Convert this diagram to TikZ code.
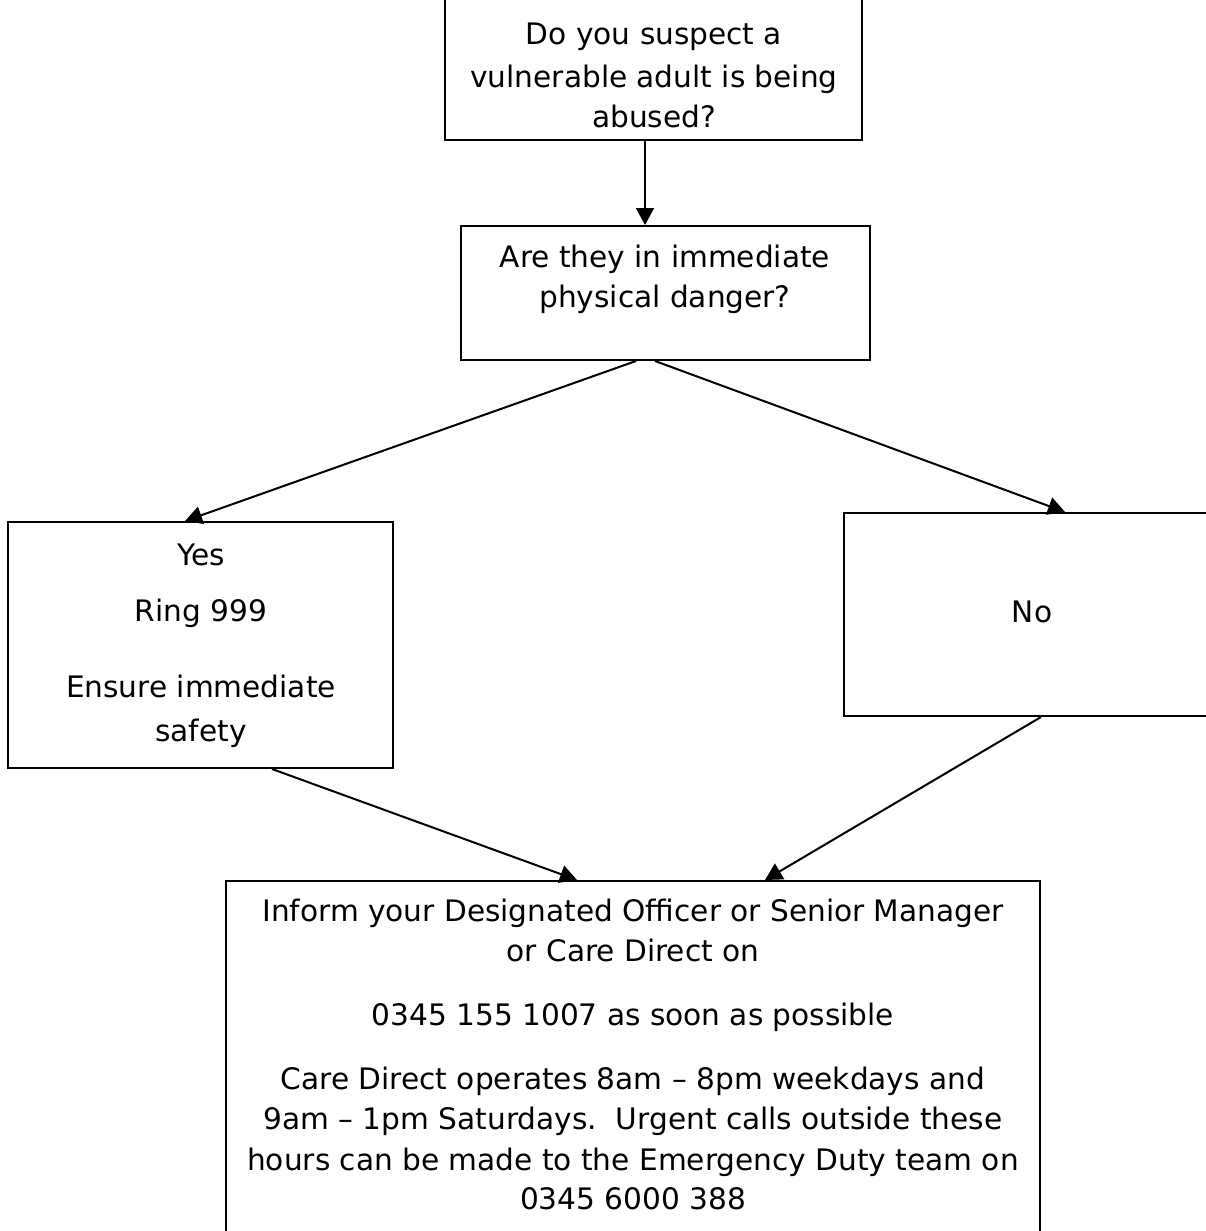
\documentclass[tikz,border=0pt]{standalone}
\usepackage{fontspec}
\setmainfont{DejaVu Sans}
\usetikzlibrary{calc,arrows.meta}
\begin{document}
\begin{tikzpicture}[x=1pt,y=-1pt,
  box/.style={draw,line width=2pt,rectangle,inner sep=0pt},
  txt/.style={anchor=base,inner sep=0pt,font=\fontsize{29.6}{40}\selectfont},
  arr/.style={line width=2pt,-{Triangle[length=17pt,width=18pt]}}]
\useasboundingbox (0,0) rectangle (1206,1231);
\clip (0,0) rectangle (1206,1231);
\node[box,minimum width=417pt,minimum height=142pt] (q1) at (653.5,69) {};
\node[box,minimum width=409pt,minimum height=134pt] (q2) at (665.5,293) {};
\node[box,minimum width=385pt,minimum height=246pt] (yes) at (200.5,645) {};
\node[box,minimum width=380pt,minimum height=203pt] (no) at (1034,614.5) {};
\node[box,minimum width=814pt,minimum height=360pt] (inf) at (633,1061) {};
% texts
\node[txt] (q1a) at (654,45) {Do you suspect a};
\node[txt] (q1b) at (654,88) {vulnerable adult is being};
\node[txt] (q1c) at (654,127) {abused?};
\node[txt] (q2a) at (665,267) {Are they in immediate};
\node[txt] (q2b) at (665,307) {physical danger?};
\node[txt] (y1) at (201,565) {Yes};
\node[txt] (y2) at (201,621) {Ring 999};
\node[txt] (y3) at (201,697) {Ensure immediate};
\node[txt] (y4) at (201,741) {safety};
\node[txt] (n1) at (1032,622) {No};
\node[txt] (b1) at (633,921) {Inform your Designated Officer or Senior Manager};
\node[txt] (b2) at (633,961) {or Care Direct on};
\node[txt] (b3) at (633,1025) {0345 155 1007 as soon as possible};
\node[txt] (b4) at (633,1089) {Care Direct operates 8am – 8pm weekdays and};
\node[txt] (b5) at (633,1129) {9am – 1pm Saturdays.\ \ Urgent calls outside these};
\node[txt] (b6) at (633,1170) {hours can be made to the Emergency Duty team on};
\node[txt] (b7) at (633,1209) {0345 6000 388};
% arrows
\draw[arr] (q1.south -| 645,0) -- (q2.north -| 645,0);
\draw[arr] (q2.south -| 636,0) -- (yes.north -| 185,0);
\draw[arr] (q2.south -| 655,0) -- (no.north -| 1065,0);
\draw[arr] (yes.south -| 272,0) -- (inf.north -| 577,0);
\draw[arr] (no.south -| 1041,0) -- (inf.north -| 765,0);
\end{tikzpicture}
\end{document}
